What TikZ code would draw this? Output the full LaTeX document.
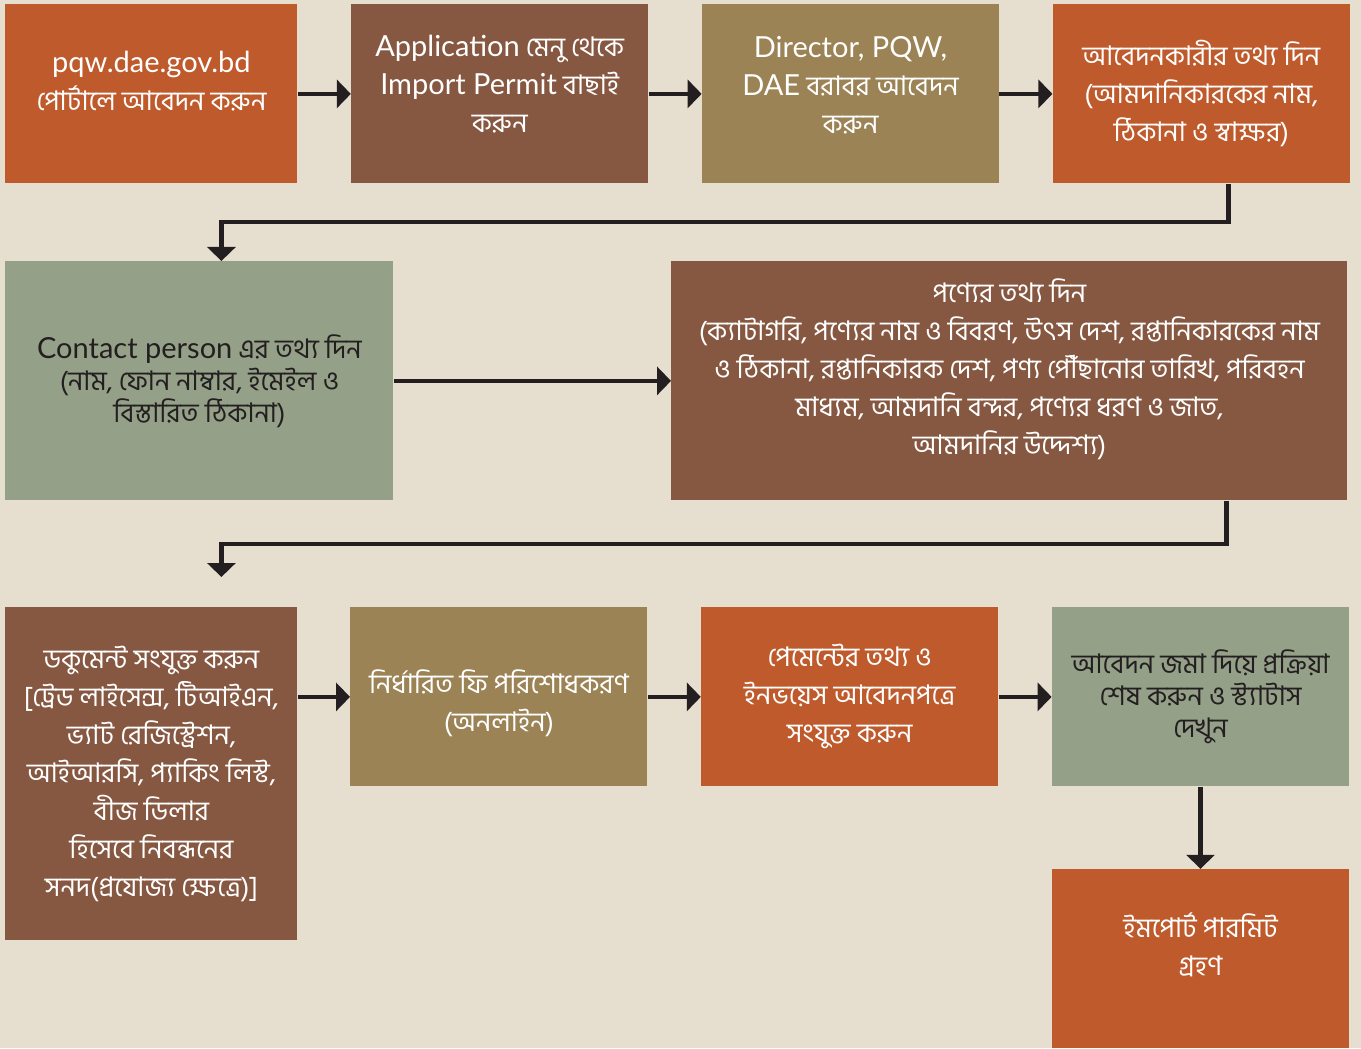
\documentclass[tikz,border=0pt]{standalone}
\usepackage{fontspec}
\setmainfont[Script=Bengali]{Hind Siliguri}
\newfontfamily\latfont{Lato}
\usepackage{xcolor}
\usepackage{tikz}
\usetikzlibrary{positioning,arrows.meta}

\definecolor{pageBg}{HTML}{E6DECF}
\definecolor{rust}{HTML}{BE5A2B}
\definecolor{umber}{HTML}{865741}
\definecolor{khaki}{HTML}{9B8355}
\definecolor{sage}{HTML}{95A088}
\definecolor{ink}{HTML}{231F20}
\newcommand{\enword}[1]{{\latfont\fontsize{14.5}{19}\selectfont #1}}
\newcommand{\lowstrut}[1]{\rule[-#1]{0pt}{0pt}}
\newcommand{\highstrut}[1]{\rule{0pt}{#1}}

\begin{document}
\begin{tikzpicture}[
  x=0.5pt, y=-0.5pt,
  font=\fontsize{13.5}{19}\selectfont,
  stepnode/.style = {rectangle, inner sep=0pt, anchor=north west, align=center,
    text=white, minimum width=148.5pt, minimum height=89.5pt},
  rustbox/.style  = {stepnode, fill=rust},
  umberbox/.style = {stepnode, fill=umber},
  khakibox/.style = {stepnode, fill=khaki},
  sagebox/.style  = {stepnode, fill=sage, text=ink, font=\fontsize{13.5}{16}\selectfont},
  arrow/.style = {-{Triangle[length=7pt,width=14pt]}, line width=2.2pt, draw=ink},
  node distance=26.5pt,
]
  \fill[pageBg] (0,0) rectangle (1361,1048);

  % row 1
  \node[rustbox, minimum width=146pt] (portal) at (5,4) {\enword{pqw.dae.gov.bd}\\পোর্টালে আবেদন করুন\lowstrut{13pt}};
  \node[umberbox, right=of portal] (menu) {\enword{Application} মেনু থেকে\\\enword{Import Permit} বাছাই\\করুন\lowstrut{10pt}};
  \node[khakibox, right=of menu] (director) {\enword{Director, PQW,}\\\enword{DAE} বরাবর আবেদন\\করুন\lowstrut{9pt}};
  \node[rustbox, right=of director] (applicant) {আবেদনকারীর তথ্য দিন\\(আমদানিকারকের নাম,\\ঠিকানা ও স্বাক্ষর)};

  % row 2
  \node[sagebox, minimum width=194pt, minimum height=119.5pt] (contact) at (5,261)
    {\enword{Contact person} এর তথ্য দিন\\(নাম, ফোন নাম্বার, ইমেইল ও\\বিস্তারিত ঠিকানা)};
  \node[umberbox, minimum width=338pt, minimum height=119.5pt] (product) at (671,261)
    {পণ্যের তথ্য দিন\\(ক্যাটাগরি, পণ্যের নাম ও বিবরণ, উৎস দেশ, রপ্তানিকারকের নাম\\ও ঠিকানা, রপ্তানিকারক দেশ, পণ্য পৌঁছানোর তারিখ, পরিবহন\\মাধ্যম, আমদানি বন্দর, পণ্যের ধরণ ও জাত,\\আমদানির উদ্দেশ্য)\lowstrut{14.5pt}};

  % row 3
  \node[umberbox, minimum width=146pt, minimum height=166.5pt] (docs) at (5,607)
    {ডকুমেন্ট সংযুক্ত করুন\\{[}ট্রেড লাইসেন্স, টিআইএন,\\ভ্যাট রেজিস্ট্রেশন,\\আইআরসি, প্যাকিং লিস্ট,\\বীজ ডিলার\\হিসেবে নিবন্ধনের\\সনদ(প্রযোজ্য ক্ষেত্রে){]}};
  \node[khakibox] (fee) at (350,607) {\highstrut{18pt}নির্ধারিত ফি পরিশোধকরণ\\(অনলাইন)};
  \node[rustbox, right=of fee] (payment) {পেমেন্টের তথ্য ও\\ইনভয়েস আবেদনপত্রে\\সংযুক্ত করুন};
  \node[sagebox, right=of payment] (submit) {আবেদন জমা দিয়ে প্রক্রিয়া\\শেষ করুন ও স্ট্যাটাস\\দেখুন};
  \node[rustbox, below=41pt of submit] (permit) {ইমপোর্ট পারমিট\\গ্রহণ\lowstrut{15pt}};

  \coordinate (docsin) at ([xshift=35pt,yshift=15pt]docs.north);

  \draw[arrow] (portal) -- (menu);
  \draw[arrow] (menu) -- (director);
  \draw[arrow] (director) -- (applicant);
  \draw[arrow] ([xshift=13.5pt]applicant.south) -- ++(0,38) -| ([xshift=11pt]contact.north);
  \draw[arrow] (contact) -- (product);
  \draw[arrow] ([xshift=108.5pt]product.south) -- ++(0,43) -| (docsin);
  \draw[arrow] (docs.east |- fee.west) -- (fee);
  \draw[arrow] (fee) -- (payment);
  \draw[arrow] (payment) -- (submit);
  \draw[arrow] (submit) -- (permit);
\end{tikzpicture}
\end{document}
